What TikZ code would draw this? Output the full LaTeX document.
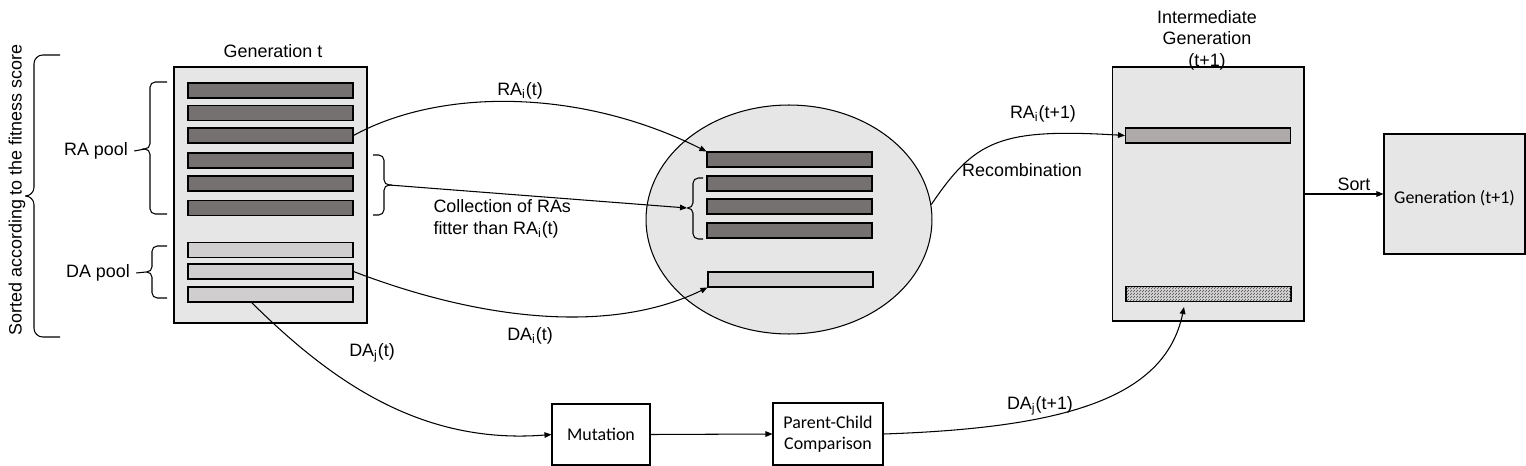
\documentclass[tikz,border=0pt]{standalone}
\usepackage{fontspec}
\setmainfont{Liberation Sans}
\newfontfamily\calibri{Carlito}
\usetikzlibrary{shapes.geometric, positioning, arrows.meta, patterns}

\definecolor{boxgray}{HTML}{E7E6E6}
\definecolor{lightbar}{HTML}{D0CECE}
\definecolor{midbar}{HTML}{AEAAAA}
\definecolor{darkbar}{HTML}{767171}

\pgfdeclarepatternformonly{finedots}{\pgfpointorigin}{\pgfpoint{1.4pt}{1.4pt}}{\pgfpoint{1.4pt}{1.4pt}}{%
  \pgfpathcircle{\pgfpoint{0.35pt}{0.35pt}}{0.35pt}%
  \pgfpathcircle{\pgfpoint{1.05pt}{1.05pt}}{0.35pt}%
  \pgfusepath{fill}}

\begin{document}
\begin{tikzpicture}[x=0.02cm, y=-0.02cm, line width=0.6pt,
    font=\fontsize{10.2}{12.2}\selectfont,
    panel/.style={draw, fill=boxgray, inner sep=0pt},
    rabar/.style={draw, fill=darkbar, minimum width=3.3cm, minimum height=0.3cm, inner sep=0pt},
    dabar/.style={rabar, fill=lightbar},
    procbox/.style={draw, font=\calibri\fontsize{10.2}{12}\selectfont, align=center, inner sep=0pt},
    arr/.style={-{Triangle[length=4pt, width=3.2pt]}},
    pool/.style={rounded corners=3pt}]
            \useasboundingbox (0,0) rectangle (1526,466);

            % Nodes
            \node[panel, minimum width=3.86cm, minimum height=5.12cm] (gent) at (270.5,195) {};
            \node (gentitle) at (273,51) {Generation t};
            \node[rabar] (ra1) at (270.5,90.5) {};
            \node[rabar] (ra2) at (270.5,113) {};
            \node[rabar] (ra3) at (270.5,135.5) {};
            \node[rabar] (ra4) at (270.5,160.5) {};
            \node[rabar] (ra5) at (270.5,183.5) {};
            \node[rabar] (ra6) at (270.5,208) {};
            \node[dabar] (da1) at (270.5,250) {};
            \node[dabar] (da2) at (270.5,271.5) {};
            \node[dabar] (da3) at (270.5,294.5) {};

            \node[rotate=90] (sortedlbl) at (17,190) {Sorted according to the fitness score};
            \node (rapoollbl) at (96,151) {RA pool};
            \node (dapoollbl) at (98,273) {DA pool};

            \node[ellipse, draw, fill=boxgray, minimum width=5.72cm, minimum height=4.58cm, inner sep=0pt] (pool) at (789,219.5) {};
            \node[rabar] (ellra1) at (789.5,159.5) {};
            \node[rabar] (ellra2) at (789.5,183.5) {};
            \node[rabar] (ellra3) at (789.5,206.5) {};
            \node[rabar] (ellra4) at (789.5,230.5) {};
            \node[dabar] (ellda) at (790.5,279.5) {};

            \node[panel, minimum width=3.84cm, minimum height=5.08cm] (intbox) at (1208,194) {};
            \node[align=center] (inttitle) at (1207,40) {Intermediate\\Generation\\(t+1)};
            \node[rabar, fill=midbar] (intra) at (1208,135.5) {};
            \node[dabar, postaction={pattern=finedots, pattern color=black!70}] (hatchbar) at (1208.5,294) {};

            \node[panel, procbox, minimum width=2.82cm, minimum height=2.4cm] (gen1) at (1454.5,194) {\raisebox{-5.5pt}[0pt][0pt]{Generation (t+1)}};
            \node[procbox, minimum width=1.96cm, minimum height=1.22cm] (mut) at (601,434.5) {Mutation};
            \node[procbox, minimum width=2.2cm, minimum height=1.24cm] (pcc) at (828,434) {Parent-Child\\Comparison};

            % Labels
            \node (raitlbl) at (520,91) {RA\textsubscript{i}(t)};
            \node[anchor=west, align=left, inner sep=0pt] (colllbl) at (433,219) {Collection of RAs\\fitter than RA\textsubscript{i}(t)};
            \node (dailbl) at (530,336) {DA\textsubscript{i}(t)};
            \node (dajlbl) at (372,353) {DA\textsubscript{j}(t)};
            \node (raiplbl) at (1043,114) {RA\textsubscript{i}(t+1)};
            \node (recomblbl) at (1022,170) {Recombination};
            \node (sortlbl) at (1354,184) {Sort};
            \node (dajplbl) at (1040,406) {DA\textsubscript{j}(t+1)};

            % Braces
            \draw[rounded corners=5pt] (60,55) -- (34,55) -- (34,196) -- (28,196)
                                       (60,337) -- (34,337) -- (34,196) -- (28,196);
            \coordinate (ratip) at (145,149);
            \draw[pool] (167,82) -- (150,82) -- (150,149) -- (ratip)
                        (167,214) -- (150,214) -- (150,149) -- (ratip);
            \coordinate (datip) at (146,272);
            \draw[pool] (167,246) -- (152,246) -- (152,272) -- (datip)
                        (167,298) -- (152,298) -- (152,272) -- (datip);
            \coordinate (colltip) at (389,185);
            \draw[pool] (373,155) -- (384,155) -- (384,185) -- (colltip)
                        (373,215) -- (384,215) -- (384,185) -- (colltip);
            \coordinate (innertip) at (687,208);
            \draw[pool] (703,178) -- (693,178) -- (693,208) -- (innertip)
                        (703,239) -- (693,239) -- (693,208) -- (innertip);

            % Edges
            \draw (rapoollbl.east) -- (ratip);
            \draw (dapoollbl.east) -- (datip);
            \draw[arr] (ra3.east) .. controls (440,88) and (580,88) .. (ellra1.north west);
            \draw[arr] (colltip) -- (innertip);
            \draw[arr] (da2.east) .. controls (480,320) and (610,335) .. (ellda.south west);
            \draw[arr] (da3.203) .. controls (330,380) and (420,445) .. (mut.west);
            \draw[arr] (mut.east) -- (pcc.west);
            \coordinate (dajin) at (1184,307);
            \draw[arr] (pcc.east) .. controls (1060,428) and (1165,400) .. (dajin);
            \draw[arr] (pool.6) .. controls (975,140) and (1000,128) .. (intra.west);
            \draw[arr] (intbox.east) -- (gen1.west);
        \end{tikzpicture}
\end{document}
